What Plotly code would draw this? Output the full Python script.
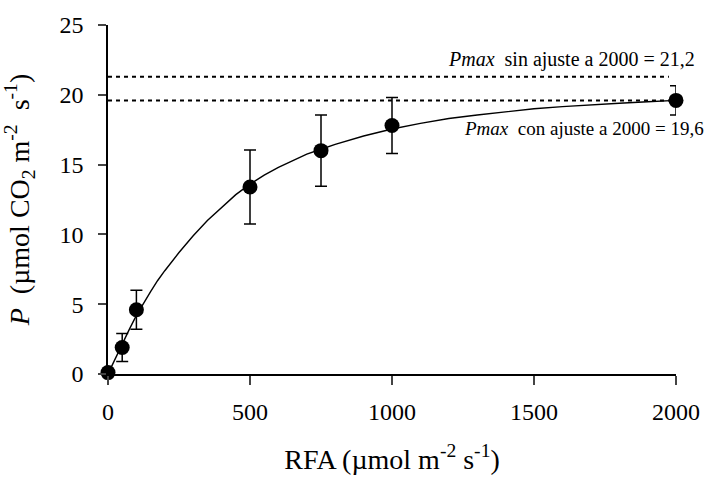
import plotly.graph_objects as go

# measured points
rfa = [0, 50, 100, 500, 750, 1000, 2000]
p_mean = [0.1, 1.9, 4.6, 13.4, 16.0, 17.8, 19.6]
p_err = [0.0, 1.0, 1.4, 2.65, 2.55, 2.0, 1.05]

# fitted curve
curve_x = [0, 25, 50, 75, 100, 125, 150, 175, 200, 250, 300, 350, 400, 450, 500, 550, 600, 650, 700,
           750, 800, 900, 1000, 1100, 1200, 1300, 1400, 1500, 1600, 1700, 1800, 1900, 2000]
curve_y = [0, 1.1, 2.2, 3.2, 4.2, 5.1, 5.9, 6.7, 7.4, 8.7, 9.9, 11.0, 11.95, 12.85, 13.6, 14.25, 14.8,
           15.3, 15.75, 16.1, 16.45, 17.05, 17.55, 17.95, 18.3, 18.55, 18.8, 19.0, 19.15, 19.3, 19.4,
           19.5, 19.6]

# reference levels
pmax_levels = [21.3, 19.6]
pmax_line_end = [1975, 1990]
pmax_labels = ["<i>Pmax</i>  sin ajuste a 2000 = 21,2", "<i>Pmax</i>  con ajuste a 2000 = 19,6"]

x_ticks = [0, 500, 1000, 1500, 2000]
y_ticks = [0, 5, 10, 15, 20, 25]

FONT = "Liberation Serif, Times New Roman, serif"

fig = go.Figure()

for lvl, xe in zip(pmax_levels, pmax_line_end):
    fig.add_trace(go.Scatter(x=[0, xe], y=[lvl, lvl], mode="lines",
                             line=dict(color="black", width=2, dash="4px,4px"),
                             hoverinfo="skip", showlegend=False, cliponaxis=False))

fig.add_trace(go.Scatter(x=curve_x, y=curve_y, mode="lines",
                         line=dict(color="black", width=1.4),
                         showlegend=False, cliponaxis=False))

fig.add_trace(go.Scatter(x=rfa, y=p_mean, mode="markers",
                         marker=dict(color="black", size=15),
                         error_y=dict(type="data", array=p_err, color="black", thickness=1.5, width=6),
                         showlegend=False, cliponaxis=False))

fig.add_annotation(x=1990, y=pmax_levels[0], xref="x", yref="y", text=pmax_labels[0],
                   showarrow=False, yanchor="bottom", yshift=4, xanchor="right", xshift=24,
                   font=dict(family=FONT, size=20, color="black"))
fig.add_annotation(x=2000, y=pmax_levels[1], xref="x", yref="y", text=pmax_labels[1],
                   showarrow=False, yanchor="top", yshift=-16, xanchor="right", xshift=30,
                   font=dict(family=FONT, size=19, color="black"))

fig.update_layout(
    width=712, height=482,
    margin=dict(l=108, r=26, t=23, b=108),
    plot_bgcolor="white", paper_bgcolor="white",
    font=dict(family=FONT, size=23, color="black"),
    xaxis=dict(range=[0, 2000], tickvals=x_ticks, ticks="outside", ticklen=9, tickwidth=1.5,
               showline=True, linecolor="black", linewidth=1.5, showgrid=False, zeroline=False,
               ticklabelstandoff=6,
               title=dict(text="RFA (µmol m<sup>-2</sup> s<sup>-1</sup>)", standoff=26),
               tickfont=dict(size=24)),
    yaxis=dict(range=[0, 25], tickvals=y_ticks, ticks="outside", ticklen=8, tickwidth=1.5,
               showline=True, linecolor="black", linewidth=1.5, showgrid=False, zeroline=False,
               ticklabelstandoff=10,
               title=dict(text="<i>P</i>  (µmol CO<sub>2</sub> m<sup>-2</sup>  s<sup>-1</sup>)", standoff=26),
               tickfont=dict(size=24)),
)

fig.write_html("out.html")
